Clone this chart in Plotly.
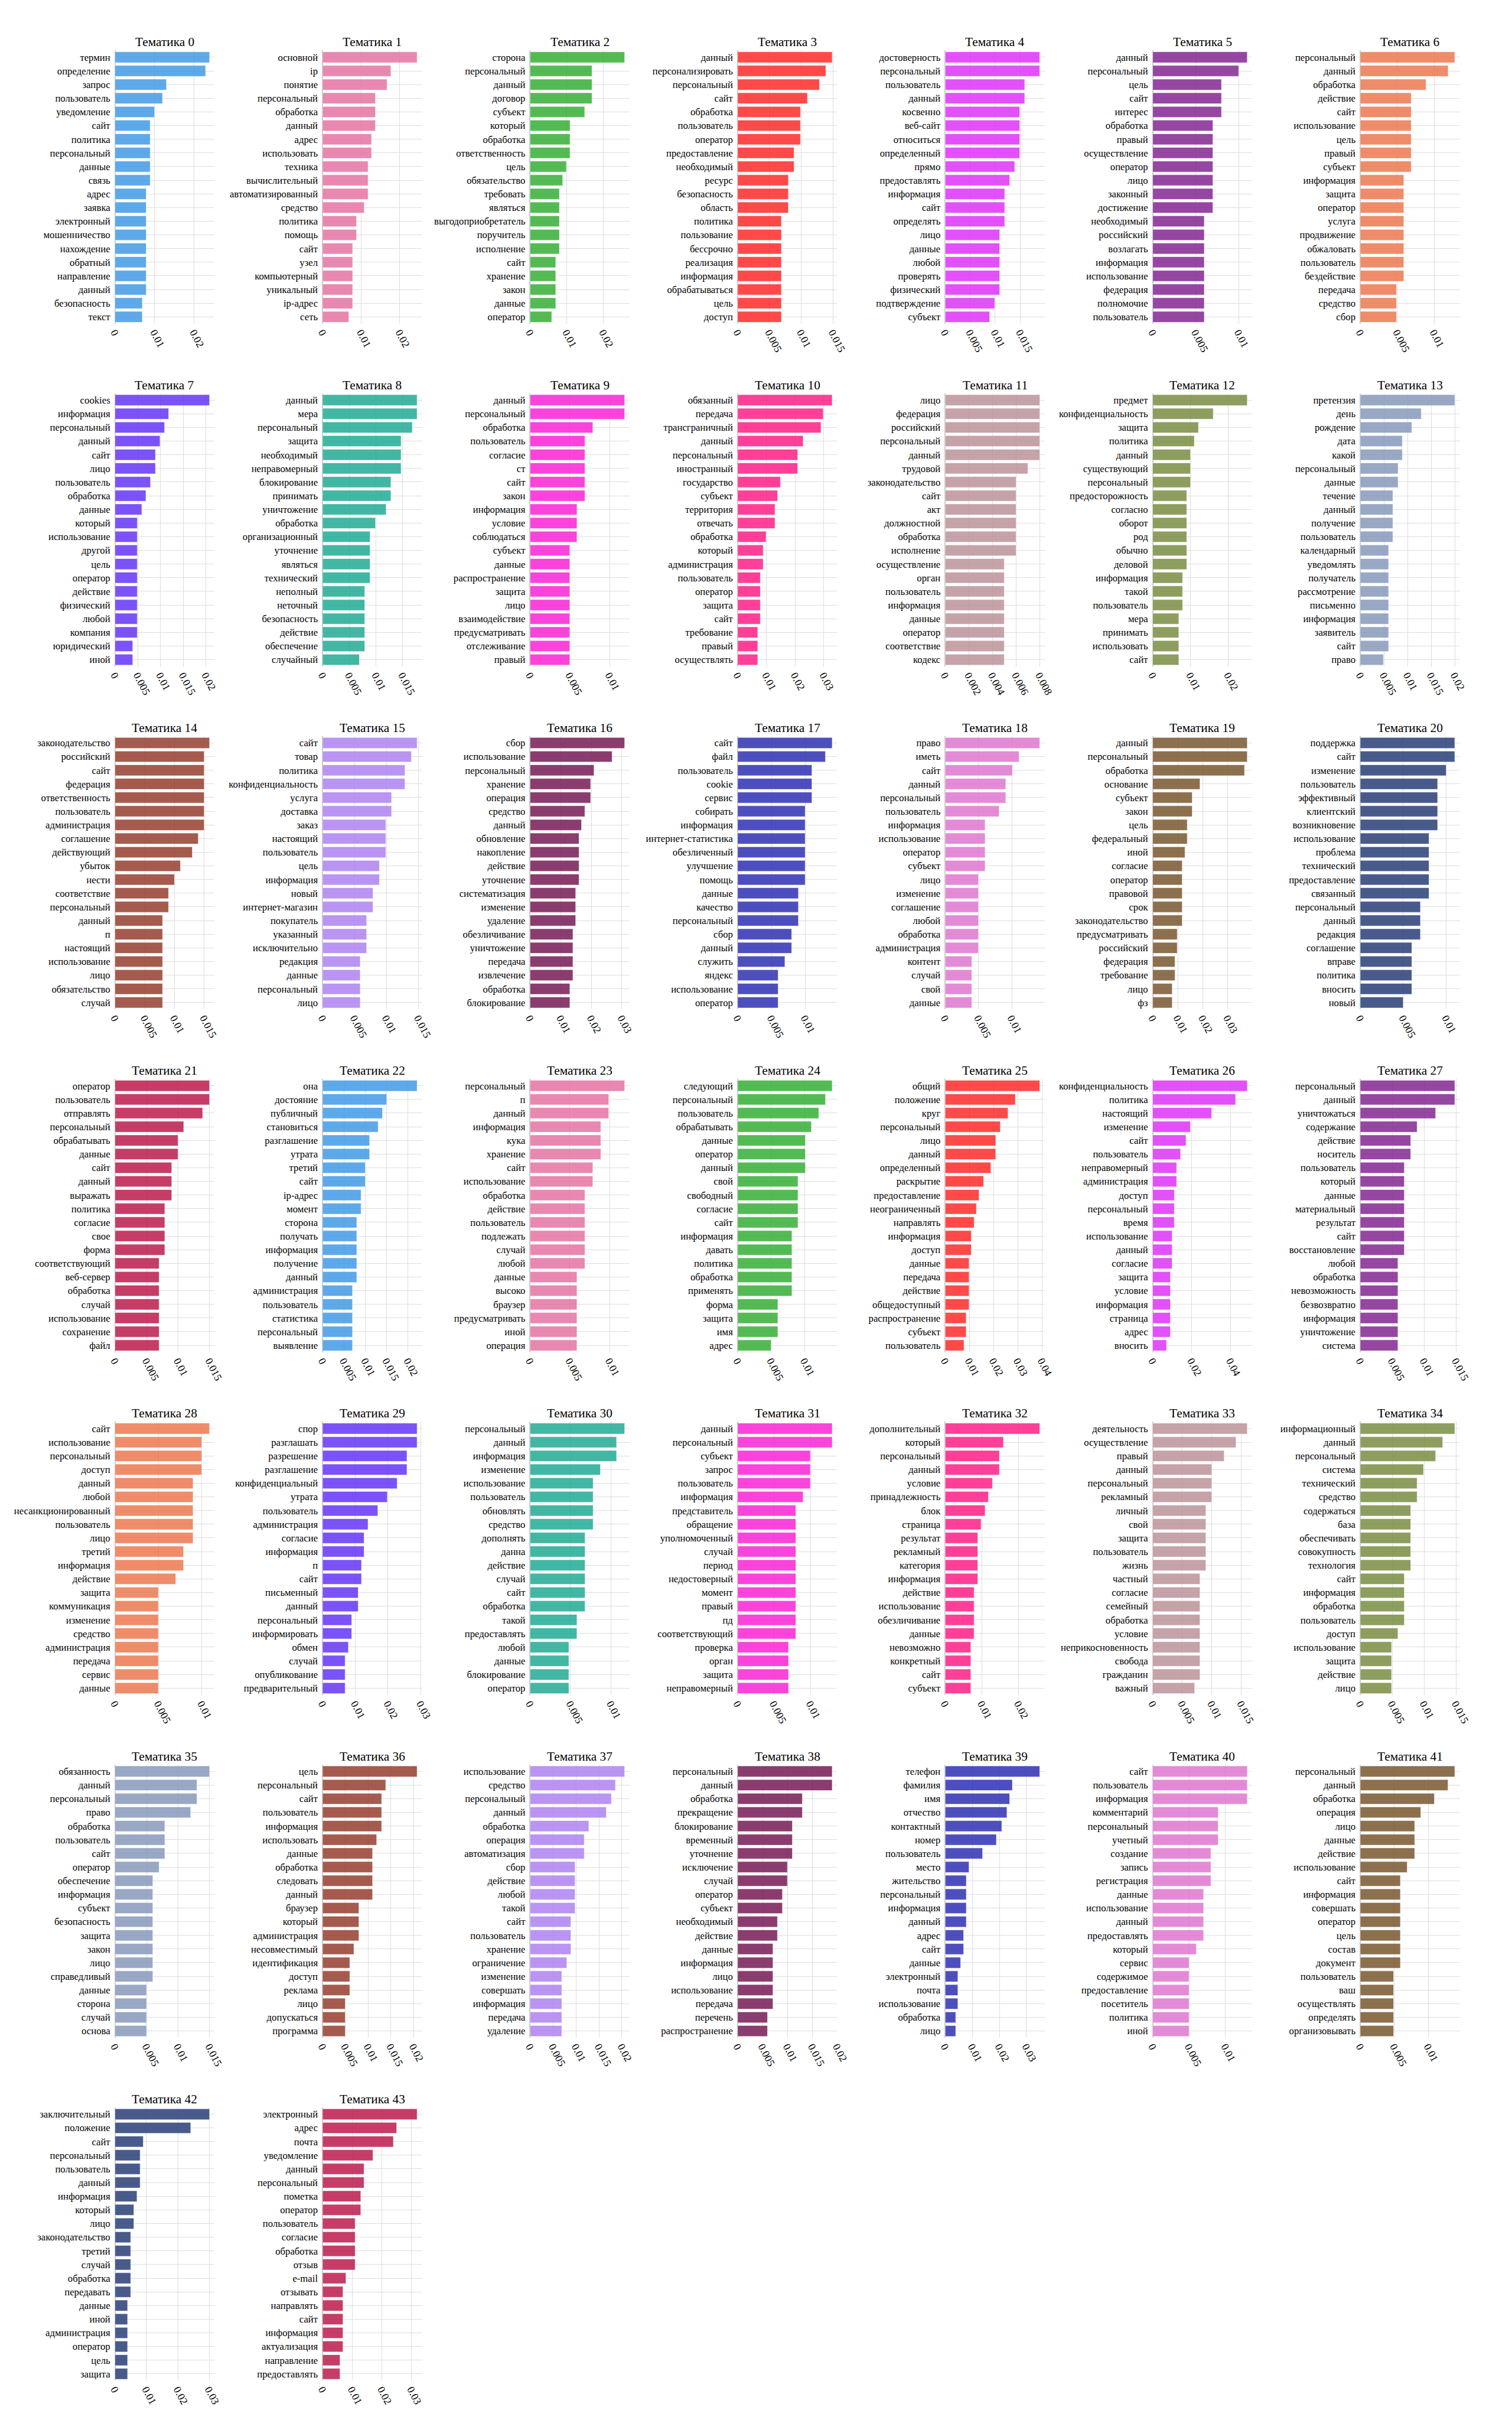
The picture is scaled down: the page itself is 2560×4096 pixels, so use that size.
import plotly.graph_objects as go

# ---------------- data ----------------
W_0 = ["термин","определение","запрос","пользователь","уведомление","сайт","политика","персональный","данные","связь","адрес","заявка","электронный","мошенничество","нахождение","обратный","направление","данный","безопасность","текст"]
S_0 = [0.0239,0.0229,0.0130,0.0120,0.0100,0.0089,0.0089,0.0089,0.0089,0.0089,0.0079,0.0079,0.0079,0.0079,0.0079,0.0079,0.0079,0.0079,0.0069,0.0069]
W_1 = ["основной","ip","понятие","персональный","обработка","данный","адрес","использовать","техника","вычислительный","автоматизированный","средство","политика","помощь","сайт","узел","компьютерный","уникальный","ip-адрес","сеть"]
S_1 = [0.0245,0.0177,0.0167,0.0137,0.0137,0.0137,0.0127,0.0127,0.0118,0.0118,0.0118,0.0108,0.0088,0.0088,0.0078,0.0078,0.0078,0.0078,0.0078,0.0068]
W_2 = ["сторона","персональный","данный","договор","субъект","который","обработка","ответственность","цель","обязательство","требовать","являться","выгодоприобретатель","поручитель","исполнение","сайт","хранение","закон","данные","оператор"]
S_2 = [0.0258,0.0169,0.0169,0.0169,0.0149,0.0109,0.0109,0.0109,0.0099,0.0089,0.0080,0.0080,0.0080,0.0080,0.0080,0.0070,0.0070,0.0070,0.0070,0.0059]
W_3 = ["данный","персонализировать","персональный","сайт","обработка","пользователь","оператор","предоставление","необходимый","ресурс","безопасность","область","политика","пользование","бессрочно","реализация","информация","обрабатываться","цель","доступ"]
S_3 = [0.0149,0.0139,0.0129,0.0110,0.0099,0.0099,0.0099,0.0089,0.0089,0.0080,0.0080,0.0080,0.0069,0.0069,0.0069,0.0069,0.0069,0.0069,0.0069,0.0069]
W_4 = ["достоверность","персональный","пользователь","данный","косвенно","веб-сайт","относиться","определенный","прямо","предоставлять","информация","сайт","определять","лицо","данные","любой","проверять","физический","подтверждение","субъект"]
S_4 = [0.0189,0.0189,0.0159,0.0159,0.0149,0.0149,0.0149,0.0149,0.0139,0.0129,0.0119,0.0119,0.0119,0.0109,0.0109,0.0109,0.0109,0.0109,0.0099,0.0089]
W_5 = ["данный","персональный","цель","сайт","интерес","обработка","правый","осуществление","оператор","лицо","законный","достижение","необходимый","российский","возлагать","информация","использование","федерация","полномочие","пользователь"]
S_5 = [0.0110,0.0100,0.0080,0.0080,0.0080,0.0070,0.0070,0.0070,0.0070,0.0070,0.0070,0.0070,0.0060,0.0060,0.0060,0.0060,0.0060,0.0060,0.0060,0.0060]
W_6 = ["персональный","данный","обработка","действие","сайт","использование","цель","правый","субъект","информация","защита","оператор","услуга","продвижение","обжаловать","пользователь","бездействие","передача","средство","сбор"]
S_6 = [0.0128,0.0119,0.0089,0.0069,0.0069,0.0069,0.0069,0.0069,0.0069,0.0059,0.0059,0.0059,0.0059,0.0059,0.0059,0.0059,0.0059,0.0049,0.0049,0.0049]
W_7 = ["cookies","информация","персональный","данный","сайт","лицо","пользователь","обработка","данные","который","использование","другой","цель","оператор","действие","физический","любой","компания","юридический","иной"]
S_7 = [0.0208,0.0118,0.0109,0.0099,0.0089,0.0089,0.0078,0.0068,0.0059,0.0049,0.0049,0.0049,0.0049,0.0049,0.0049,0.0049,0.0049,0.0049,0.0039,0.0039]
W_8 = ["данный","мера","персональный","защита","необходимый","неправомерный","блокирование","принимать","уничтожение","обработка","организационный","уточнение","являться","технический","неполный","неточный","безопасность","действие","обеспечение","случайный"]
S_8 = [0.0177,0.0177,0.0168,0.0147,0.0147,0.0147,0.0128,0.0128,0.0119,0.0099,0.0089,0.0089,0.0089,0.0089,0.0079,0.0079,0.0079,0.0079,0.0079,0.0069]
W_9 = ["данный","персональный","обработка","пользователь","согласие","ст","сайт","закон","информация","условие","соблюдаться","субъект","данные","распространение","защита","лицо","взаимодействие","предусматривать","отслеживание","правый"]
S_9 = [0.0119,0.0119,0.0079,0.0069,0.0069,0.0069,0.0069,0.0069,0.0059,0.0059,0.0059,0.0050,0.0050,0.0050,0.0050,0.0050,0.0050,0.0050,0.0050,0.0050]
W_10 = ["обязанный","передача","трансграничный","данный","персональный","иностранный","государство","субъект","территория","отвечать","обработка","который","администрация","пользователь","оператор","защита","сайт","требование","правый","осуществлять"]
S_10 = [0.0329,0.0298,0.0290,0.0228,0.0209,0.0209,0.0149,0.0139,0.0130,0.0130,0.0099,0.0089,0.0089,0.0079,0.0079,0.0079,0.0079,0.0070,0.0070,0.0070]
W_11 = ["лицо","федерация","российский","персональный","данный","трудовой","законодательство","сайт","акт","должностной","обработка","исполнение","осуществление","орган","пользователь","информация","данные","оператор","соответствие","кодекс"]
S_11 = [0.0080,0.0080,0.0080,0.0080,0.0080,0.0070,0.0060,0.0060,0.0060,0.0060,0.0060,0.0060,0.0050,0.0050,0.0050,0.0050,0.0050,0.0050,0.0050,0.0050]
W_12 = ["предмет","конфиденциальность","защита","политика","данный","существующий","персональный","предосторожность","согласно","оборот","род","обычно","деловой","информация","такой","пользователь","мера","принимать","использовать","сайт"]
S_12 = [0.0250,0.0160,0.0121,0.0110,0.0100,0.0100,0.0100,0.0090,0.0090,0.0090,0.0090,0.0090,0.0090,0.0079,0.0079,0.0079,0.0069,0.0069,0.0069,0.0069]
W_13 = ["претензия","день","рождение","дата","какой","персональный","данные","течение","данный","получение","пользователь","календарный","уведомлять","получатель","рассмотрение","письменно","информация","заявитель","сайт","право"]
S_13 = [0.0200,0.0129,0.0109,0.0089,0.0089,0.0080,0.0080,0.0069,0.0069,0.0069,0.0069,0.0060,0.0060,0.0060,0.0060,0.0060,0.0060,0.0060,0.0060,0.0049]
W_14 = ["законодательство","российский","сайт","федерация","ответственность","пользователь","администрация","соглашение","действующий","убыток","нести","соответствие","персональный","данный","п","настоящий","использование","лицо","обязательство","случай"]
S_14 = [0.0159,0.0150,0.0150,0.0150,0.0150,0.0150,0.0150,0.0140,0.0130,0.0110,0.0100,0.0090,0.0090,0.0080,0.0080,0.0080,0.0080,0.0080,0.0080,0.0080]
W_15 = ["сайт","товар","политика","конфиденциальность","услуга","доставка","заказ","настоящий","пользователь","цель","информация","новый","интернет-магазин","покупатель","указанный","исключительно","редакция","данные","персональный","лицо"]
S_15 = [0.0148,0.0139,0.0129,0.0129,0.0108,0.0108,0.0099,0.0099,0.0099,0.0089,0.0089,0.0079,0.0079,0.0069,0.0069,0.0069,0.0059,0.0059,0.0059,0.0059]
W_16 = ["сбор","использование","персональный","хранение","операция","средство","данный","обновление","накопление","действие","уточнение","систематизация","изменение","удаление","обезличивание","уничтожение","передача","извлечение","обработка","блокирование"]
S_16 = [0.0309,0.0268,0.0209,0.0198,0.0198,0.0179,0.0168,0.0160,0.0160,0.0160,0.0160,0.0149,0.0149,0.0149,0.0140,0.0140,0.0140,0.0140,0.0130,0.0130]
W_17 = ["сайт","файл","пользователь","cookie","сервис","собирать","информация","интернет-статистика","обезличенный","улучшение","помощь","данные","качество","персональный","сбор","данный","служить","яндекс","использование","оператор"]
S_17 = [0.0140,0.0130,0.0110,0.0110,0.0110,0.0100,0.0100,0.0100,0.0100,0.0100,0.0100,0.0090,0.0090,0.0090,0.0080,0.0080,0.0070,0.0060,0.0060,0.0060]
W_18 = ["право","иметь","сайт","данный","персональный","пользователь","информация","использование","оператор","субъект","лицо","изменение","соглашение","любой","обработка","администрация","контент","случай","свой","данные"]
S_18 = [0.0142,0.0111,0.0101,0.0091,0.0091,0.0081,0.0060,0.0060,0.0060,0.0060,0.0050,0.0050,0.0050,0.0050,0.0050,0.0050,0.0040,0.0040,0.0040,0.0040]
W_19 = ["данный","персональный","обработка","основание","субъект","закон","цель","федеральный","иной","согласие","оператор","правовой","срок","законодательство","предусматривать","российский","федерация","требование","лицо","фз"]
S_19 = [0.0378,0.0378,0.0367,0.0189,0.0158,0.0158,0.0138,0.0138,0.0129,0.0118,0.0118,0.0118,0.0118,0.0118,0.0098,0.0098,0.0089,0.0089,0.0078,0.0078]
W_20 = ["поддержка","сайт","изменение","пользователь","эффективный","клиентский","возникновение","использование","проблема","технический","предоставление","связанный","персональный","данный","редакция","соглашение","вправе","политика","вносить","новый"]
S_20 = [0.0110,0.0110,0.0100,0.0090,0.0090,0.0090,0.0090,0.0080,0.0080,0.0080,0.0080,0.0080,0.0070,0.0070,0.0070,0.0060,0.0060,0.0060,0.0060,0.0050]
W_21 = ["оператор","пользователь","отправлять","персональный","обрабатывать","данные","сайт","данный","выражать","политика","согласие","свое","форма","соответствующий","веб-сервер","обработка","случай","использование","сохранение","файл"]
S_21 = [0.0150,0.0150,0.0139,0.0109,0.0100,0.0100,0.0090,0.0090,0.0090,0.0079,0.0079,0.0079,0.0079,0.0070,0.0070,0.0070,0.0070,0.0070,0.0070,0.0070]
W_22 = ["она","достояние","публичный","становиться","разглашение","утрата","третий","сайт","ip-адрес","момент","сторона","получать","информация","получение","данный","администрация","пользователь","статистика","персональный","выявление"]
S_22 = [0.0221,0.0150,0.0140,0.0130,0.0110,0.0110,0.0100,0.0100,0.0090,0.0090,0.0080,0.0080,0.0080,0.0080,0.0080,0.0070,0.0070,0.0070,0.0070,0.0070]
W_23 = ["персональный","п","данный","информация","кука","хранение","сайт","использование","обработка","действие","пользователь","подлежать","случай","любой","данные","высоко","браузер","предусматривать","иной","операция"]
S_23 = [0.0119,0.0099,0.0099,0.0089,0.0089,0.0089,0.0079,0.0079,0.0069,0.0069,0.0069,0.0069,0.0069,0.0069,0.0059,0.0059,0.0059,0.0059,0.0059,0.0059]
W_24 = ["следующий","персональный","пользователь","обрабатывать","данные","оператор","данный","свой","свободный","согласие","сайт","информация","давать","политика","обработка","применять","форма","защита","имя","адрес"]
S_24 = [0.0141,0.0131,0.0121,0.0110,0.0101,0.0101,0.0101,0.0090,0.0090,0.0090,0.0090,0.0081,0.0081,0.0081,0.0081,0.0081,0.0060,0.0060,0.0060,0.0050]
W_25 = ["общий","положение","круг","персональный","лицо","данный","определенный","раскрытие","предоставление","неограниченный","направлять","информация","доступ","данные","передача","действие","общедоступный","распространение","субъект","пользователь"]
S_25 = [0.0391,0.0290,0.0260,0.0228,0.0209,0.0209,0.0189,0.0159,0.0140,0.0129,0.0120,0.0108,0.0108,0.0099,0.0099,0.0099,0.0099,0.0087,0.0087,0.0078]
W_26 = ["конфиденциальность","политика","настоящий","изменение","сайт","пользователь","неправомерный","администрация","доступ","персональный","время","использование","данный","согласие","защита","условие","информация","страница","адрес","вносить"]
S_26 = [0.0486,0.0426,0.0303,0.0194,0.0171,0.0143,0.0123,0.0123,0.0111,0.0111,0.0111,0.0100,0.0100,0.0100,0.0091,0.0091,0.0091,0.0091,0.0091,0.0071]
W_27 = ["персональный","данный","уничтожаться","содержание","действие","носитель","пользователь","который","данные","материальный","результат","сайт","восстановление","любой","обработка","невозможность","безвозвратно","информация","уничтожение","система"]
S_27 = [0.0148,0.0148,0.0118,0.0089,0.0079,0.0079,0.0069,0.0069,0.0069,0.0069,0.0069,0.0069,0.0069,0.0059,0.0059,0.0059,0.0059,0.0059,0.0059,0.0059]
W_28 = ["сайт","использование","персональный","доступ","данный","любой","несанкционированный","пользователь","лицо","третий","информация","действие","защита","коммуникация","изменение","средство","администрация","передача","сервис","данные"]
S_28 = [0.0109,0.0100,0.0100,0.0100,0.0090,0.0090,0.0090,0.0090,0.0090,0.0079,0.0079,0.0070,0.0050,0.0050,0.0050,0.0050,0.0050,0.0050,0.0050,0.0050]
W_29 = ["спор","разглашать","разрешение","разглашение","конфиденциальный","утрата","пользователь","администрация","согласие","информация","п","сайт","письменный","данный","персональный","информировать","обмен","случай","опубликование","предварительный"]
S_29 = [0.0289,0.0289,0.0258,0.0258,0.0228,0.0198,0.0169,0.0139,0.0127,0.0127,0.0119,0.0119,0.0109,0.0109,0.0089,0.0089,0.0079,0.0069,0.0069,0.0069]
W_30 = ["персональный","данный","информация","изменение","использование","пользователь","обновлять","средство","дополнять","данна","действие","случай","сайт","обработка","такой","предоставлять","любой","данные","блокирование","оператор"]
S_30 = [0.0117,0.0107,0.0107,0.0087,0.0078,0.0078,0.0078,0.0078,0.0068,0.0068,0.0068,0.0068,0.0068,0.0068,0.0058,0.0058,0.0048,0.0048,0.0048,0.0048]
W_31 = ["данный","персональный","субъект","запрос","пользователь","информация","представитель","обращение","уполномоченный","случай","период","недостоверный","момент","правый","пд","соответствующий","проверка","орган","защита","неправомерный"]
S_31 = [0.0130,0.0130,0.0100,0.0100,0.0100,0.0090,0.0080,0.0080,0.0080,0.0080,0.0080,0.0080,0.0080,0.0080,0.0080,0.0080,0.0070,0.0070,0.0070,0.0070]
W_32 = ["дополнительный","который","персональный","данный","условие","принадлежность","блок","страница","результат","рекламный","категория","информация","действие","использование","обезличивание","данные","невозможно","конкретный","сайт","субъект"]
S_32 = [0.0258,0.0159,0.0148,0.0148,0.0129,0.0118,0.0109,0.0098,0.0089,0.0089,0.0089,0.0089,0.0079,0.0079,0.0079,0.0079,0.0070,0.0070,0.0070,0.0070]
W_33 = ["деятельность","осуществление","правый","данный","персональный","рекламный","личный","свой","защита","пользователь","жизнь","частный","согласие","семейный","обработка","условие","неприкосновенность","свобода","гражданин","важный"]
S_33 = [0.0160,0.0141,0.0121,0.0100,0.0100,0.0100,0.0090,0.0090,0.0090,0.0090,0.0090,0.0080,0.0080,0.0080,0.0080,0.0080,0.0080,0.0080,0.0080,0.0071]
W_34 = ["информационный","данный","персональный","система","технический","средство","содержаться","база","обеспечивать","совокупность","технология","сайт","информация","обработка","пользователь","доступ","использование","защита","действие","лицо"]
S_34 = [0.0148,0.0129,0.0118,0.0099,0.0089,0.0089,0.0079,0.0079,0.0079,0.0079,0.0079,0.0069,0.0069,0.0069,0.0069,0.0059,0.0049,0.0049,0.0049,0.0049]
W_35 = ["обязанность","данный","персональный","право","обработка","пользователь","сайт","оператор","обеспечение","информация","субъект","безопасность","защита","закон","лицо","справедливый","данные","сторона","случай","основа"]
S_35 = [0.0150,0.0130,0.0130,0.0120,0.0079,0.0079,0.0079,0.0070,0.0060,0.0060,0.0060,0.0060,0.0060,0.0060,0.0060,0.0060,0.0050,0.0050,0.0050,0.0050]
W_36 = ["цель","персональный","сайт","пользователь","информация","использовать","данные","обработка","следовать","данный","браузер","который","администрация","несовместимый","идентификация","доступ","реклама","лицо","допускаться","программа"]
S_36 = [0.0208,0.0139,0.0130,0.0130,0.0130,0.0119,0.0110,0.0110,0.0110,0.0110,0.0080,0.0080,0.0080,0.0069,0.0060,0.0060,0.0060,0.0050,0.0050,0.0050]
W_37 = ["использование","средство","персональный","данный","обработка","операция","автоматизация","сбор","действие","любой","такой","сайт","пользователь","хранение","ограничение","изменение","совершать","информация","передача","удаление"]
S_37 = [0.0206,0.0186,0.0177,0.0166,0.0128,0.0118,0.0118,0.0098,0.0098,0.0098,0.0098,0.0089,0.0089,0.0089,0.0080,0.0069,0.0069,0.0069,0.0069,0.0069]
W_38 = ["персональный","данный","обработка","прекращение","блокирование","временный","уточнение","исключение","случай","оператор","субъект","необходимый","действие","данные","информация","лицо","использование","передача","перечень","распространение"]
S_38 = [0.0190,0.0190,0.0130,0.0130,0.0110,0.0110,0.0110,0.0100,0.0100,0.0090,0.0090,0.0080,0.0080,0.0071,0.0071,0.0071,0.0071,0.0071,0.0060,0.0060]
W_39 = ["телефон","фамилия","имя","отчество","контактный","номер","пользователь","место","жительство","персональный","информация","данный","адрес","сайт","данные","электронный","почта","использование","обработка","лицо"]
S_39 = [0.0349,0.0248,0.0238,0.0228,0.0209,0.0189,0.0138,0.0088,0.0078,0.0078,0.0078,0.0078,0.0068,0.0068,0.0057,0.0047,0.0047,0.0047,0.0039,0.0039]
W_40 = ["сайт","пользователь","информация","комментарий","персональный","учетный","создание","запись","регистрация","данные","использование","данный","предоставлять","который","сервис","содержимое","предоставление","посетитель","политика","иной"]
S_40 = [0.0130,0.0130,0.0130,0.0090,0.0090,0.0090,0.0080,0.0080,0.0080,0.0070,0.0070,0.0070,0.0070,0.0060,0.0050,0.0050,0.0050,0.0050,0.0050,0.0050]
W_41 = ["персональный","данный","обработка","операция","лицо","данные","действие","использование","сайт","информация","совершать","оператор","цель","состав","документ","пользователь","ваш","осуществлять","определять","организовывать"]
S_41 = [0.0139,0.0129,0.0109,0.0089,0.0080,0.0080,0.0080,0.0069,0.0059,0.0059,0.0059,0.0059,0.0059,0.0059,0.0059,0.0049,0.0049,0.0049,0.0049,0.0049]
W_42 = ["заключительный","положение","сайт","персональный","пользователь","данный","информация","который","лицо","законодательство","третий","случай","обработка","передавать","данные","иной","администрация","оператор","цель","защита"]
S_42 = [0.0301,0.0241,0.0090,0.0080,0.0080,0.0080,0.0070,0.0060,0.0060,0.0050,0.0050,0.0050,0.0050,0.0050,0.0040,0.0040,0.0040,0.0040,0.0040,0.0040]
W_43 = ["электронный","адрес","почта","уведомление","данный","персональный","пометка","оператор","пользователь","согласие","обработка","отзыв","e-mail","отзывать","направлять","сайт","информация","актуализация","направление","предоставлять"]
S_43 = [0.0319,0.0250,0.0239,0.0170,0.0140,0.0140,0.0129,0.0129,0.0110,0.0110,0.0110,0.0110,0.0079,0.0069,0.0069,0.0069,0.0069,0.0069,0.0059,0.0059]

WORDS = [W_0,W_1,W_2,W_3,W_4,W_5,W_6,W_7,W_8,W_9,W_10,W_11,W_12,W_13,W_14,W_15,W_16,W_17,W_18,W_19,W_20,W_21,
         W_22,W_23,W_24,W_25,W_26,W_27,W_28,W_29,W_30,W_31,W_32,W_33,W_34,W_35,W_36,W_37,W_38,W_39,W_40,W_41,W_42,W_43]
SCORES = [S_0,S_1,S_2,S_3,S_4,S_5,S_6,S_7,S_8,S_9,S_10,S_11,S_12,S_13,S_14,S_15,S_16,S_17,S_18,S_19,S_20,S_21,
          S_22,S_23,S_24,S_25,S_26,S_27,S_28,S_29,S_30,S_31,S_32,S_33,S_34,S_35,S_36,S_37,S_38,S_39,S_40,S_41,S_42,S_43]
TITLES = ["Тематика %d" % i for i in range(44)]

# tick step of each x axis, as seen in the reference
DTICKS = [0.01,0.01,0.01,0.005,0.005,0.005,0.005,0.005,0.005,0.005,0.01,0.002,0.01,0.005,
          0.005,0.005,0.01,0.005,0.005,0.01,0.005,0.005,0.005,0.005,0.005,0.01,0.02,0.005,
          0.005,0.01,0.005,0.005,0.01,0.005,0.005,0.005,0.005,0.005,0.005,0.01,0.005,0.005,
          0.01,0.01]

# palette (as it appears on screen); repeats every 22 topics
SHOWN = ["#5EAAEA","#E989B2","#55BC55","#FF4B4B","#E452FC","#9647A2","#F08C6B","#7B54F8",
         "#42B8A5","#FC45DC","#FE4199","#C5A3A9","#8E9E5F","#99A8C5","#A65C4D","#BA96F3",
         "#8B3E6F","#4F50BF","#E58BD8","#8D704E","#485C8B","#C63E68"]

OPACITY = 0.85


def under(hexcol):
    h = hexcol.lstrip("#")
    out = []
    for k in range(3):
        v = int(h[2 * k:2 * k + 2], 16)
        u = round((v - (1 - OPACITY) * 255) / OPACITY)
        out.append(max(0, min(255, u)))
    return "rgb(%d,%d,%d)" % tuple(out)


# ---------------- layout geometry (reference pixels, 3000 x 4800) ----------------
REF_W, REF_H = 3000.0, 4800.0
COL_X0, COL_PITCH, PLOT_W = 218, 417, 200
ROW_Y0, ROW_PITCH, PLOT_H = 100, 680, 542
NCOLS = 7
S = 2560 / 3000.0

FONT = "Liberation Serif, Times New Roman, serif"
TICK_SIZE = 19.6 * S
XTICK_SIZE = 21.0 * S
TITLE_SIZE = 25.0 * S
GRID = "#dddddd"
ZERO = "#cccccc"

fig = go.Figure()
annotations = []
for i in range(len(WORDS)):
    r, c = divmod(i, NCOLS)
    n = "" if i == 0 else str(i + 1)
    x0 = (COL_X0 + COL_PITCH * c) / REF_W
    x1 = (COL_X0 + COL_PITCH * c + PLOT_W) / REF_W
    ytop = (ROW_Y0 + ROW_PITCH * r) / REF_H
    ybot = (ROW_Y0 + ROW_PITCH * r + PLOT_H) / REF_H
    col = SHOWN[i % len(SHOWN)]
    fig.add_trace(go.Bar(
        x=SCORES[i], y=WORDS[i], orientation="h",
        marker=dict(color=under(col), line=dict(color="white", width=0.6)),
        opacity=OPACITY,
        xaxis="x" + n, yaxis="y" + n, showlegend=False,
    ))
    fig.layout["xaxis" + n] = dict(
        domain=[x0, x1], anchor="y" + n,
        showgrid=True, gridcolor=GRID, gridwidth=1,
        zeroline=True, zerolinecolor=ZERO, zerolinewidth=2,
        showline=False, ticks="",
        tick0=0, dtick=DTICKS[i], tickangle=62,
        tickfont=dict(family=FONT, size=XTICK_SIZE, color="#000000"),
    )
    fig.layout["yaxis" + n] = dict(
        domain=[1 - ybot, 1 - ytop], anchor="x" + n,
        type="category", autorange="reversed",
        showgrid=True, gridcolor=GRID, gridwidth=1,
        showline=False, ticks="", zeroline=False,
        ticklabelstandoff=7,
        tickfont=dict(family=FONT, size=TICK_SIZE, color="#000000"),
    )
    annotations.append(dict(
        text=TITLES[i], x=(x0 + x1) / 2, y=1 - ytop, xref="paper", yref="paper",
        xanchor="center", yanchor="bottom", showarrow=False,
        font=dict(family=FONT, size=TITLE_SIZE, color="#000000"),
    ))

fig.update_layout(
    width=2560, height=4096,
    margin=dict(l=0, r=0, t=0, b=0, pad=0),
    paper_bgcolor="white", plot_bgcolor="white",
    annotations=annotations, showlegend=False,
    bargap=0.2,
    font=dict(family=FONT, color="#000000"),
)

fig.write_html("out.html", config={"displayModeBar": False})
